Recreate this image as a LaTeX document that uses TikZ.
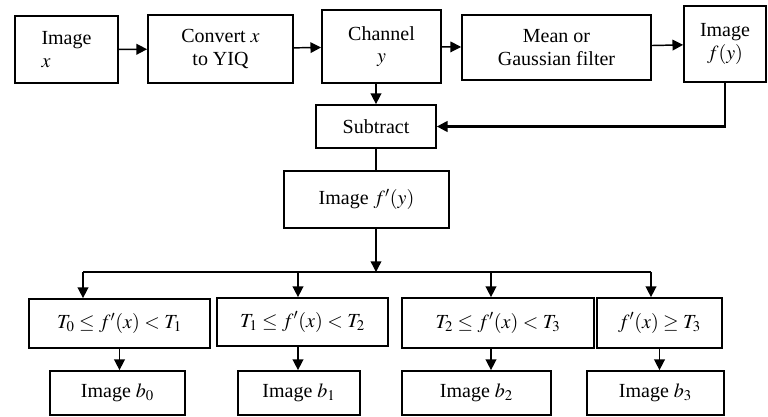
\documentclass[tikz,border=0pt]{standalone}
\usepackage{mathptmx}
\usepackage{fontspec}
\setmainfont{Liberation Serif}
\usetikzlibrary{arrows.meta,calc}
\begin{document}
\begin{tikzpicture}[x=0.75pt,y=-0.75pt,
  box/.style={draw,line width=1.3pt,rectangle,inner sep=2pt,font=\fontsize{15}{17}\selectfont,align=center},
  arr/.style={line width=1.1pt,-{Triangle[length=8pt,width=8pt]}},
  ln/.style={line width=1.1pt}]
\useasboundingbox (0,0) rectangle (768,417);
% top row
\node[box,minimum width=103*0.75pt,minimum height=67*0.75pt,align=left] (A) at (66.5,49.5) {Image\\$x$};
\node[box,minimum width=145*0.75pt,minimum height=68*0.75pt] (B) at (220.5,49) {Convert $x$\\to YIQ};
\node[box,minimum width=119*0.75pt,minimum height=73*0.75pt] (C) at (381.5,46.5) {Channel\\$y$};
\node[box,minimum width=189*0.75pt,minimum height=65*0.75pt] (D) at (556.5,47.5) {Mean or\\Gaussian filter};
\node[box,minimum width=82*0.75pt,minimum height=76*0.75pt] (E) at (725,44) {Image\\$f(y)$};
% middle
\node[box,minimum width=120*0.75pt,minimum height=43*0.75pt] (F) at (376,126.5) {Subtract};
\node[box,minimum width=165*0.75pt,minimum height=57*0.75pt] (G) at (366.5,199.5) {Image $f'(y)$};
\coordinate (J) at (376,272);
\coordinate (b1) at (83,272);
\coordinate (b2) at (298,272);
\coordinate (b3) at (491,272);
\coordinate (b4) at (651,272);
% conditions
\node[box,minimum width=181*0.75pt,minimum height=49*0.75pt] (H1) at (119.5,323.5) {$T_0 \le f'(x) < T_1$};
\node[box,minimum width=171*0.75pt,minimum height=48*0.75pt] (H2) at (302.5,322) {$T_1 \le f'(x) < T_2$};
\node[box,minimum width=192*0.75pt,minimum height=50*0.75pt] (H3) at (498,323) {$T_2 \le f'(x) < T_3$};
\node[box,minimum width=125*0.75pt,minimum height=50*0.75pt] (H4) at (659.5,323) {$f'(x) \ge T_3$};
% results
\node[box,minimum width=135*0.75pt,minimum height=44*0.75pt] (I1) at (117.5,393) {Image $b_0$};
\node[box,minimum width=122*0.75pt,minimum height=44*0.75pt] (I2) at (299,393) {Image $b_1$};
\node[box,minimum width=149*0.75pt,minimum height=44*0.75pt] (I3) at (476.5,393) {Image $b_2$};
\node[box,minimum width=137*0.75pt,minimum height=44*0.75pt] (I4) at (655.5,393) {Image $b_3$};
% connectors top
\draw[arr] (A) -- (B);
\draw[arr] (B) -- (C);
\draw[arr] (C) -- (D);
\draw[arr] (D) -- (E);
\draw[arr] (F.north |- C.south) -- (F.north);
\draw[arr,line width=1.6pt] (E.south) |- (F.east);
\draw[ln] (F.south) -- (F.south |- G.north);
\draw[arr] (F.south |- G.south) -- (J);
\draw[ln] (b1) -- (b4);
\draw[arr] (b1) -- (b1 |- H1.north);
\draw[arr] (b2) -- (b2 |- H2.north);
\draw[arr] (b3) -- (b3 |- H3.north);
\draw[arr] (b4) -- (b4 |- H4.north);
\draw[arr] (H1.south) -- (H1.south |- I1.north);
\draw[arr] (b2 |- H2.south) -- (b2 |- I2.north);
\draw[arr] (b3 |- H3.south) -- (b3 |- I3.north);
\draw[arr] (H4.south) -- (H4.south |- I4.north);
\end{tikzpicture}
\end{document}
